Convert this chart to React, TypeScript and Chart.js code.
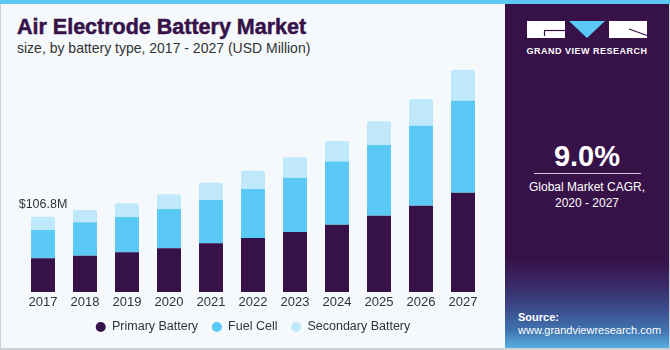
import React, { useEffect, useRef } from "react";
import { Chart, registerables } from "chart.js";

Chart.register(...registerables);

const years = ["2017", "2018", "2019", "2020", "2021", "2022", "2023", "2024", "2025", "2026", "2027"];
const primaryBattery = [47.8, 51.5, 56.3, 62.0, 69.1, 76.6, 85.1, 95.5, 108.2, 122.4, 140.8];
const fuelCell = [40.1, 47.4, 50.1, 55.7, 61.4, 69.5, 77.0, 89.4, 100.3, 113.5, 130.5];
const secondaryBattery = [18.9, 17.4, 19.4, 20.8, 24.5, 26.0, 28.9, 29.4, 33.6, 37.9, 43.5];
const seriesNames = ["Primary Battery", "Fuel Cell", "Secondary Battery"];
const annotatedIndex = 0;

const FONT = "'Liberation Sans', Arial, Helvetica, sans-serif";
const PURPLE = "#371249";
const BLUE = "#5bc9f6";
const LIGHT = "#bfe9fb";
const TEXT = "#333333";

const totalLabel =
  "$" +
  (primaryBattery[annotatedIndex] + fuelCell[annotatedIndex] + secondaryBattery[annotatedIndex]).toFixed(1) +
  "M";

const annotationPlugin = {
  id: "firstTotal",
  afterDatasetsDraw(chart: any) {
    const meta = chart.getDatasetMeta(2);
    const el = meta.data[annotatedIndex];
    if (!el) return;
    const ctx = chart.ctx;
    ctx.save();
    ctx.font = `12.5px ${FONT}`;
    ctx.fillStyle = TEXT;
    ctx.textAlign = "center";
    ctx.textBaseline = "alphabetic";
    ctx.fillText(totalLabel, el.x, el.y - 9);
    ctx.restore();
  },
};

function ChartCanvas() {
  const ref = useRef<HTMLCanvasElement | null>(null);
  useEffect(() => {
    if (!ref.current) return;
    const chart = new Chart(ref.current, {
      type: "bar",
      data: {
        labels: years,
        datasets: [
          { label: seriesNames[0], data: primaryBattery, backgroundColor: PURPLE, borderWidth: 0 },
          { label: seriesNames[1], data: fuelCell, backgroundColor: BLUE, borderWidth: 0 },
          {
            label: seriesNames[2],
            data: secondaryBattery,
            backgroundColor: LIGHT,
            borderWidth: 0,
            borderRadius: { topLeft: 2, topRight: 2, bottomLeft: 0, bottomRight: 0 },
            borderSkipped: "bottom",
          },
        ],
      },
      options: {
        animation: false,
        responsive: false,
        devicePixelRatio: 1,
        datasets: { bar: { barPercentage: 0.571, categoryPercentage: 1 } },
        layout: { padding: { left: 22, right: 21, top: 9.3, bottom: 1.75 } },
        plugins: {
          tooltip: { enabled: false },
          title: { display: false },
          legend: {
            position: "bottom",
            labels: {
              usePointStyle: true,
              pointStyle: "circle",
              boxWidth: 10,
              boxHeight: 7.07,
              padding: 13.75,
              color: TEXT,
              font: { size: 12.5, family: FONT },
            },
          },
        },
        scales: {
          x: {
            stacked: true,
            grid: { display: false, drawTicks: false },
            border: { display: false },
            ticks: { color: TEXT, font: { size: 13, family: FONT }, padding: 3 },
            afterFit: (s: any) => {
              s.height = 15;
            },
          },
          y: { stacked: true, display: false, min: 0, max: 330 },
        },
      } as any,
      plugins: [annotationPlugin],
    });
    return () => chart.destroy();
  }, []);
  return (
    <canvas
      ref={ref}
      width={505}
      height={295}
      style={{ position: "absolute", left: 0, top: 50, width: 505, height: 295 }}
    />
  );
}

export default function App() {
  const abs = (o: React.CSSProperties): React.CSSProperties => ({ position: "absolute", ...o });
  return (
    <div
      style={{
        position: "absolute",
        left: 0,
        top: 0,
        width: 670,
        height: 350,
        background: "#f5f9fc",
        overflow: "hidden",
        fontFamily: FONT,
      }}
    >
      <div style={abs({ left: 0, top: 0, width: 670, height: 4, background: "#5cc8f4" })} />
      <div style={abs({ left: 0, top: 4, width: 1, height: 346, background: "#cdd1d5" })} />
      <div style={abs({ left: 669, top: 4, width: 1, height: 346, background: "#cdd1d5" })} />
      <div style={abs({ left: 0, top: 348, width: 670, height: 2, background: "#cdd1d5" })} />

      <div
        style={abs({
          left: 17,
          top: 17.2,
          fontSize: 21.5,
          lineHeight: "21.5px",
          fontWeight: 700,
          color: PURPLE,
          whiteSpace: "nowrap",
          WebkitTextStroke: "0.5px " + PURPLE,
        })}
      >
        Air Electrode Battery Market
      </div>
      <div
        style={abs({
          left: 17,
          top: 41,
          fontSize: 14,
          lineHeight: "14px",
          color: TEXT,
          whiteSpace: "nowrap",
        })}
      >
        size, by battery type, 2017 - 2027 (USD Million)
      </div>

      <ChartCanvas />

      <div
        style={abs({
          left: 505,
          top: 4,
          width: 164,
          height: 344,
          background:
            "linear-gradient(to bottom, #371249 0%, #371249 74%, #3a2a68 82%, #3c4e8e 89%, #3f74b0 95%, #5aaee0 100%)",
        })}
      />
      <svg style={abs({ left: 505, top: 0, width: 164, height: 70 })} width={164} height={70}>
        <rect x={22} y={21} width={38} height={17} fill="#ffffff" />
        <line x1={39} y1={30.5} x2={60} y2={30.5} stroke={PURPLE} strokeWidth={1.2} />
        <line x1={39.5} y1={30.5} x2={39.5} y2={36} stroke={PURPLE} strokeWidth={1.2} />
        <polygon points="64,21 100,21 82,38" fill={BLUE} />
        <rect x={104} y={21} width={38} height={17} fill="#ffffff" />
        <line x1={124} y1={29} x2={142} y2={35.5} stroke={PURPLE} strokeWidth={1.2} />
      </svg>
      <div
        style={abs({
          left: 505,
          width: 164,
          top: 47.4,
          fontSize: 9,
          lineHeight: "9px",
          fontWeight: 700,
          letterSpacing: 0.5,
          color: "#ffffff",
          textAlign: "center",
          whiteSpace: "nowrap",
        })}
      >
        GRAND VIEW RESEARCH
      </div>
      <div
        style={abs({
          left: 505,
          width: 164,
          top: 142.3,
          fontSize: 29,
          lineHeight: "29px",
          fontWeight: 700,
          color: "#ffffff",
          textAlign: "center",
        })}
      >
        9.0%
      </div>
      <div style={abs({ left: 534, top: 173, width: 107, height: 1, background: "#cbc3d3" })} />
      <div
        style={abs({
          left: 505,
          width: 164,
          top: 179.1,
          fontSize: 12,
          lineHeight: "16px",
          color: "#ffffff",
          textAlign: "center",
          whiteSpace: "nowrap",
        })}
      >
        Global Market CAGR,
        <br />
        2020 - 2027
      </div>
      <div
        style={abs({
          left: 518,
          top: 310.7,
          fontSize: 11,
          lineHeight: "13px",
          color: "#ffffff",
          whiteSpace: "nowrap",
        })}
      >
        <b>Source:</b>
        <br />
        www.grandviewresearch.com
      </div>
    </div>
  );
}
